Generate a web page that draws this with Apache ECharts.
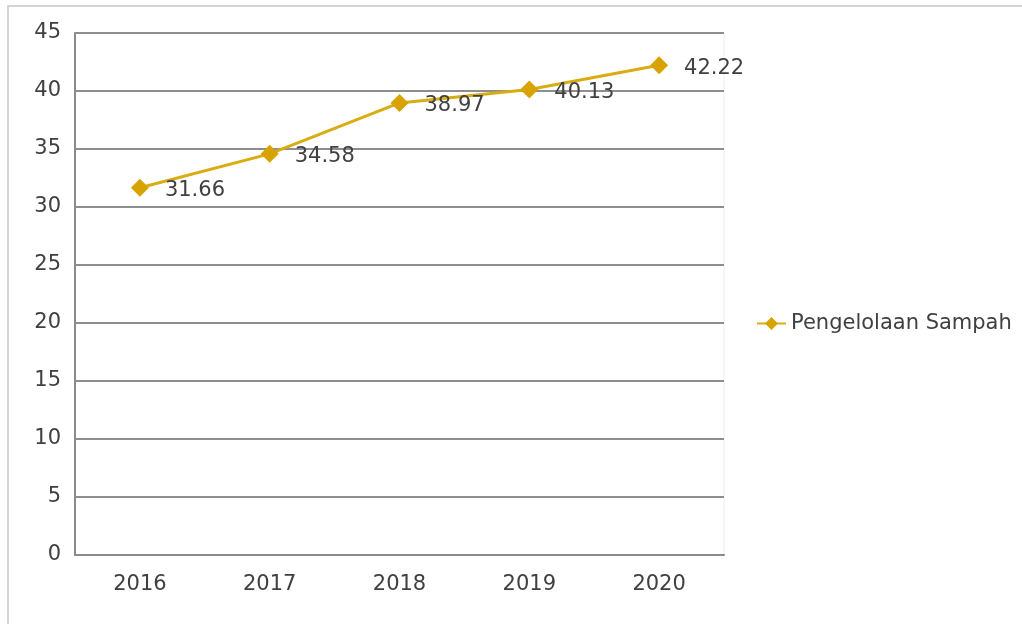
<!DOCTYPE html>
<html><head><meta charset="utf-8">
<script src="https://cdn.jsdelivr.net/npm/echarts@6/dist/echarts.min.js"></script>
<style>html,body{margin:0;padding:0;background:#fff}#c{width:1022px;height:624px}</style>
</head><body><div id="c"></div>
<script>
const years = ['2016','2017','2018','2019','2020'];
const pengelolaanSampah = [31.66, 34.58, 38.97, 40.13, 42.22];
const seriesName = 'Pengelolaan Sampah';

const chart = echarts.init(document.getElementById('c'));
const font = 'DejaVu Sans, sans-serif';
chart.setOption({
  animation: false,
  backgroundColor: '#fff',
  graphic: [{
    type: 'rect', shape: {x: 8, y: 6, width: 1200, height: 800},
    style: {fill: 'none', stroke: '#d4d4d4', lineWidth: 2}, silent: true
  }],
  grid: {left: 75, right: 298, top: 33, bottom: 69, show: true, borderColor: '#ececec', borderWidth: 1},
  legend: {
    left: 751, top: 308, orient: 'vertical',
    itemWidth: 29, itemHeight: 16, itemGap: 5,
    textStyle: {fontFamily: font, fontSize: 21, color: '#404040'},
    data: [seriesName]
  },
  xAxis: {
    type: 'category', data: years, boundaryGap: true,
    axisLine: {lineStyle: {color: '#8a8a8a', width: 2}},
    axisTick: {show: false},
    axisLabel: {fontFamily: font, fontSize: 21, color: '#404040', margin: 19}
  },
  yAxis: {
    type: 'value', min: 0, max: 45, interval: 5,
    axisLine: {show: true, lineStyle: {color: '#8a8a8a', width: 2}},
    axisTick: {show: false},
    splitLine: {lineStyle: {color: '#8e8e8e', width: 2}},
    axisLabel: {fontFamily: font, fontSize: 21, color: '#404040', margin: 14,
      padding: [4, 0, 0, 0]}
  },
  series: [{
    name: seriesName, type: 'line', data: pengelolaanSampah,
    symbol: 'diamond', symbolSize: 18,
    lineStyle: {color: '#D9AC12', width: 3},
    itemStyle: {color: '#D8A300'},
    label: {show: true, position: 'right', distance: 16, offset: [0, 3],
      fontFamily: font, fontSize: 21, color: '#404040'}
  }]
});
</script></body></html>
